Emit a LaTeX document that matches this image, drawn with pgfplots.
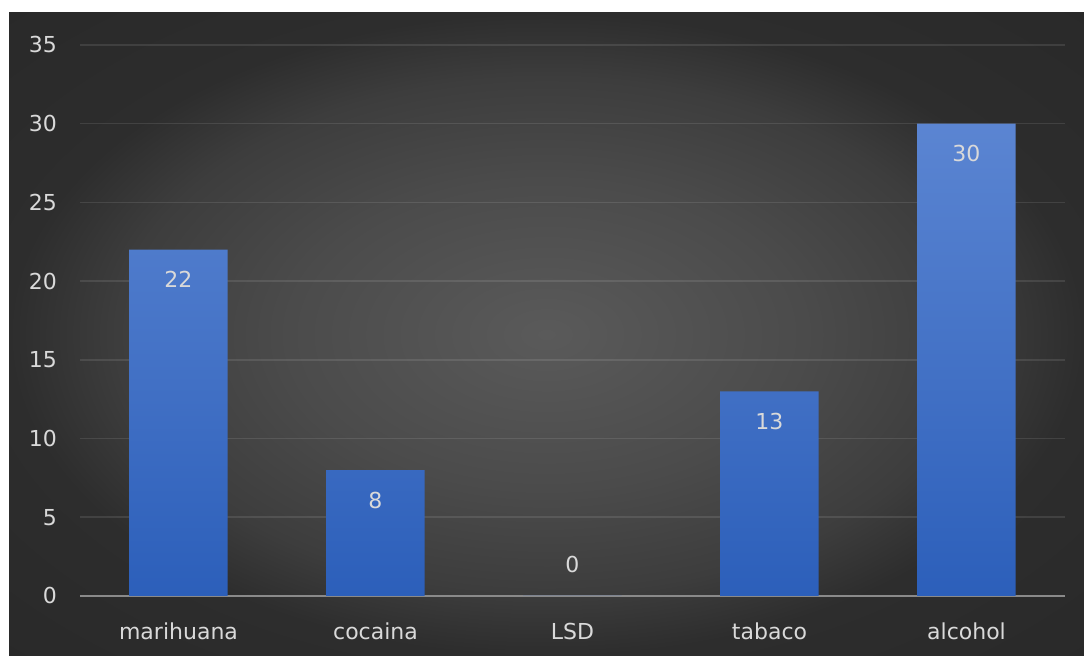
\documentclass[border=0pt]{standalone}
\usepackage{pgfplots}
\pgfplotsset{compat=1.18}
\usepackage{fontspec}
\setmainfont{DejaVu Sans}
\definecolor{bgA}{HTML}{5A5A5A}
\definecolor{bgB}{HTML}{4B4B4B}
\definecolor{bgC}{HTML}{3D3D3D}
\definecolor{bgD}{HTML}{2D2D2D}
\definecolor{bgE}{HTML}{242424}
\definecolor{axc}{HTML}{8A8A8A}
\definecolor{txt}{HTML}{D9D9D9}
\definecolor{bartop}{HTML}{5B85D2}
\definecolor{barbot}{HTML}{2C5FBA}
\pgfdeclareradialshading{bgshade}{\pgfpoint{0bp}{0bp}}{color(0bp)=(bgA); color(12bp)=(bgB); color(20bp)=(bgC); color(25bp)=(bgD); color(50bp)=(bgE)}
\begin{document}
\begin{tikzpicture}[x=0.5pt,y=0.5pt]
\fill[white] (0,0) rectangle (1084,656);
\shade[shading=bgshade] (9,0) rectangle (1084,643);
\begin{axis}[
  at={(40pt,30pt)}, anchor=south west,
  scale only axis, width=492.5pt, height=275.5pt,
  xmin=-0.5, xmax=4.5, ymin=0, ymax=35,
  xtick={0,1,2,3,4},
  xticklabels={marihuana,cocaina,LSD,tabaco,alcohol},
  ytick={0,5,...,35},
  axis x line*=bottom, axis y line*=left,
  y axis line style={draw=none},
  x axis line style={draw=axc, line width=1pt, -},
  tick style={draw=none},
  ymajorgrids, grid style={draw=white, draw opacity=0.1, line width=0.8pt},
  /pgf/number format/assume math mode=true,
  tick label style={font=\fontsize{11}{13}\selectfont, text=txt},
  yticklabel style={xshift=-8pt},
  xticklabel style={yshift=-10pt},
  clip=false,
  visualization depends on=rawy \as \rawy,
]
\addplot[ybar, bar width=0.5, draw=none, top color=bartop, bottom color=barbot,
  nodes near coords,
  every node near coord/.append style={font=\fontsize{11}{13}\selectfont, text=txt, anchor=center,
    yshift={ifthenelse(\rawy>0,-15,15.5)}}]
  coordinates {(0,22) (1,8) (2,0) (3,13) (4,30)};
\end{axis}
\end{tikzpicture}
\end{document}
